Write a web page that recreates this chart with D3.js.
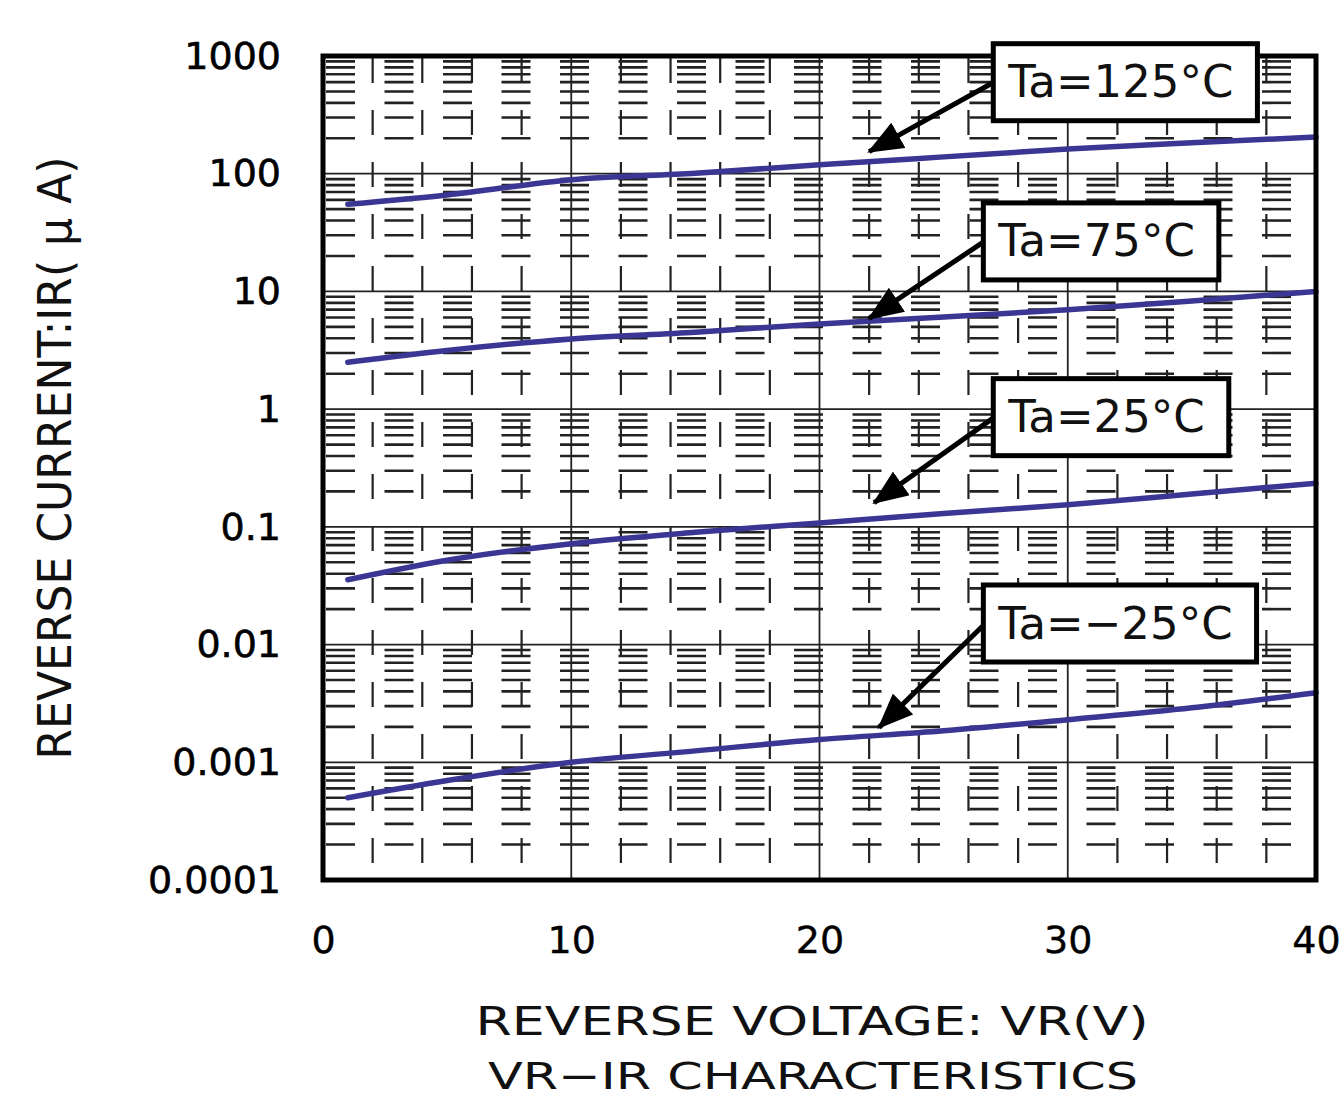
<!DOCTYPE html>
<html><head><meta charset="utf-8">
<script src="https://cdn.jsdelivr.net/npm/d3@7"></script>
<style>body{margin:0;background:#fff}</style>
</head><body>
<svg id="c" width="1341" height="1100"></svg>
<script>
// ---- data ----
const voltages = [1, 5, 10, 15, 20, 25, 30, 35, 40];
const ir125 = [55, 66, 89, 101, 119, 139, 162, 183, 205];
const ir75 = [2.5, 3.15, 3.95, 4.5, 5.3, 6.05, 7.0, 8.3, 10];
const ir25 = [0.0355, 0.052, 0.072, 0.09, 0.108, 0.13, 0.154, 0.19, 0.235];
const irM25 = [0.0005, 0.0007, 0.001, 0.00125, 0.00156, 0.00185, 0.0023, 0.0029, 0.0039];
const seriesNames = ["Ta=125°C", "Ta=75°C", "Ta=25°C", "Ta=−25°C"];
const xTicks = [0, 10, 20, 30, 40];
const xTickLabels = ["0", "10", "20", "30", "40"];
const yTicks = [0.0001, 0.001, 0.01, 0.1, 1, 10, 100, 1000];
const yTickLabels = ["0.0001", "0.001", "0.01", "0.1", "1", "10", "100", "1000"];
const xTitle = "REVERSE VOLTAGE: VR(V)";
const yTitle = "REVERSE CURRENT:IR( μ A)";
const chartTitle = "VR−IR CHARACTERISTICS";
// annotation anchors (data space)
const annTipV = [22.0, 22.0, 22.2, 22.4];
const annTipIR = [154, 5.9, 0.16, 0.00198];
const annBoxV = [27.0, 26.6, 27.0, 26.6];
const annBoxIR = [599, 26.6, 0.855, 0.0151];

// ---- layout ----
const svg = d3.select("#c");
const L = 323, R = 1316, T = 56, B = 880;
const x = d3.scaleLinear().domain([0, 40]).range([L, R]);
const y = d3.scaleLog().domain([0.0001, 1000]).range([B, T]);
const FONT = "'DejaVu Sans', sans-serif";
const gridCol = "#222";

const g = svg.append("g");

// minor horizontal grid lines
const minorY = [];
for (let d = -4; d <= 2; d++) for (let m = 2; m <= 9; m++) minorY.push(m * Math.pow(10, d));
g.selectAll("line.mh").data(minorY).enter().append("line")
  .attr("x1", L).attr("x2", R)
  .attr("y1", d => y(d)).attr("y2", d => y(d))
  .attr("stroke", gridCol).attr("stroke-width", 2.6)
  .attr("stroke-dasharray", "29,29.5").attr("stroke-dashoffset", 55.5);

// minor vertical grid lines
const minorX = d3.range(2, 40, 2).filter(v => v % 10 !== 0);
g.selectAll("line.mv").data(minorX).enter().append("line")
  .attr("x1", d => x(d)).attr("x2", d => x(d))
  .attr("y1", T + 2).attr("y2", B)
  .attr("stroke", gridCol).attr("stroke-width", 2.2)
  .attr("stroke-dasharray", "25,27");

// major lines
g.selectAll("line.Mh").data(yTicks.slice(1, -1)).enter().append("line")
  .attr("x1", L).attr("x2", R)
  .attr("y1", d => y(d)).attr("y2", d => y(d))
  .attr("stroke", gridCol).attr("stroke-width", 1.8);
g.selectAll("line.Mv").data(xTicks.slice(1, -1)).enter().append("line")
  .attr("x1", d => x(d)).attr("x2", d => x(d))
  .attr("y1", T).attr("y2", B)
  .attr("stroke", gridCol).attr("stroke-width", 1.8);

// curves
const allSeries = [ir125, ir75, ir25, irM25];
const line = d3.line().x((d, i) => x(voltages[i])).y(d => y(d)).curve(d3.curveMonotoneX);
svg.append("g").selectAll("path").data(allSeries).enter().append("path")
  .attr("d", line).attr("fill", "none")
  .attr("stroke", "#3a3694").attr("stroke-width", 5.5).attr("stroke-linecap", "round");

// frame
svg.append("rect").attr("x", L).attr("y", T).attr("width", R - L).attr("height", B - T)
  .attr("fill", "none").attr("stroke", "#000").attr("stroke-width", 5);

// axes
const yAxis = svg.append("g").attr("transform", `translate(${L},0)`)
  .call(d3.axisLeft(y).tickValues(yTicks).tickFormat((d, i) => yTickLabels[i]).tickSize(0).tickPadding(42));
yAxis.select(".domain").remove();
yAxis.selectAll("text").attr("font-family", FONT).attr("font-size", 38).attr("fill", "#000")
  .attr("stroke", "#000").attr("stroke-width", 0.6);

const xAxis = svg.append("g").attr("transform", `translate(0,${B})`)
  .call(d3.axisBottom(x).tickValues(xTicks).tickFormat((d, i) => xTickLabels[i]).tickSize(0).tickPadding(46));
xAxis.select(".domain").remove();
xAxis.selectAll("text").attr("font-family", FONT).attr("font-size", 38).attr("fill", "#000")
  .attr("stroke", "#000").attr("stroke-width", 0.4);

// titles
svg.append("text").attr("x", 812).attr("y", 1035).attr("text-anchor", "middle")
  .attr("font-family", FONT).attr("font-size", 39).attr("fill", "#111")
  .attr("textLength", 673).attr("lengthAdjust", "spacingAndGlyphs").text(xTitle);
svg.append("text").attr("x", 813).attr("y", 1089).attr("text-anchor", "middle")
  .attr("font-family", FONT).attr("font-size", 38).attr("fill", "#111")
  .attr("textLength", 650).attr("lengthAdjust", "spacingAndGlyphs").text(chartTitle);
svg.append("text").attr("transform", "translate(71,458) rotate(-90)").attr("text-anchor", "middle")
  .attr("font-family", FONT).attr("font-size", 46).attr("fill", "#111")
  .attr("textLength", 603).attr("lengthAdjust", "spacingAndGlyphs").text(yTitle);

// arrow marker
svg.append("defs").append("marker").attr("id", "ah")
  .attr("viewBox", "0 0 32 26").attr("refX", 30).attr("refY", 13)
  .attr("markerUnits", "userSpaceOnUse").attr("markerWidth", 36).attr("markerHeight", 29)
  .attr("orient", "auto")
  .append("path").attr("d", "M0,0 L32,13 L0,26 Z").attr("fill", "#000");

// annotations
const boxH = 77;
seriesNames.forEach((name, i) => {
  const bx = x(annBoxV[i]), cy = y(annBoxIR[i]);
  const ag = svg.append("g");
  ag.append("line").attr("x1", bx + 4).attr("y1", cy - 2)
    .attr("x2", x(annTipV[i])).attr("y2", y(annTipIR[i]))
    .attr("stroke", "#000").attr("stroke-width", 5).attr("marker-end", "url(#ah)");
  const rect = ag.append("rect").attr("fill", "#fff").attr("stroke", "#000").attr("stroke-width", 5);
  const t = ag.append("text").attr("x", bx + 15).attr("y", cy + 15)
    .attr("font-family", FONT).attr("font-size", 45).attr("fill", "#111").text(name);
  const w = t.node().getComputedTextLength();
  rect.attr("x", bx).attr("y", cy - boxH / 2).attr("width", w + 39).attr("height", boxH);
});
</script>
</body></html>
